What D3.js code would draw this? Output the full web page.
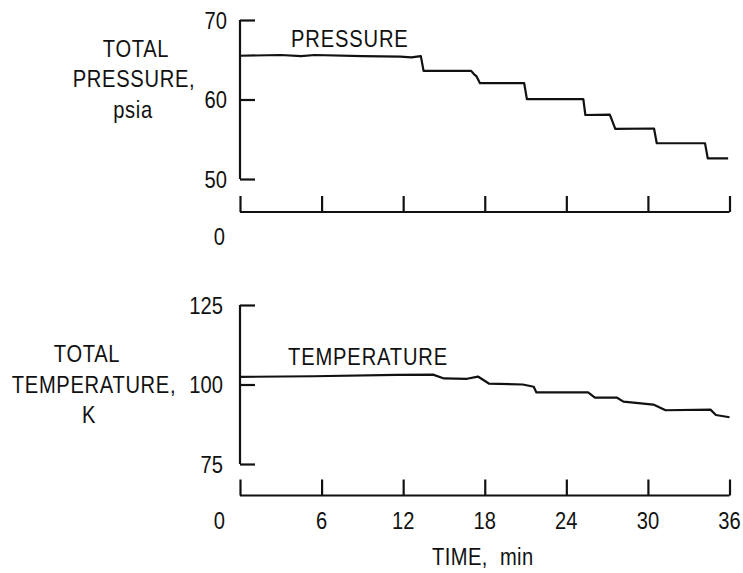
<!DOCTYPE html>
<html>
<head>
<meta charset="utf-8">
<script src="https://cdn.jsdelivr.net/npm/d3@7"></script>
<style>
  html, body { margin: 0; padding: 0; background: #fff; }
  svg text { font-family: "Liberation Sans", "DejaVu Sans", sans-serif; fill: #111; }
</style>
</head>
<body>
<svg id="chart" width="743" height="573"></svg>
<script>
// ---- data ----
const timeTicks = [0, 6, 12, 18, 24, 30, 36];
const timeTickLabels = ["6", "12", "18", "24", "30", "36"];
const pressureTicks = [50, 60, 70];
const temperatureTicks = [75, 100, 125];

const pressureTime  = [0, 3, 4.5, 5.5, 9, 11.8, 12.6, 13.3, 13.5, 17.0, 17.2, 17.4, 17.65, 20.9, 21.1, 25.25, 25.4, 27.2, 27.6, 30.45, 30.65, 34.2, 34.4, 35.9];
const pressureValue = [65.5, 65.6, 65.45, 65.6, 65.45, 65.4, 65.3, 65.45, 63.6, 63.6, 63.2, 62.9, 62.05, 62.05, 60.05, 60.05, 58.05, 58.1, 56.3, 56.35, 54.5, 54.5, 52.6, 52.6];

const temperatureTime  = [0, 5.4, 11.5, 14.2, 15.0, 16.7, 17.5, 18.3, 20.8, 21.6, 21.8, 25.6, 26.1, 27.7, 28.2, 30.4, 31.3, 34.6, 35.0, 36];
const temperatureValue = [102.4, 102.6, 103.0, 103.1, 101.9, 101.8, 102.5, 100.3, 100.0, 99.3, 97.5, 97.5, 95.9, 95.9, 94.6, 93.7, 91.9, 92.1, 90.4, 89.7];

// ---- layout ----
const svg = d3.select("#chart");
const x = d3.scaleLinear().domain([0, 36]).range([240, 729.5]);
const yP = d3.scaleLinear().domain([50, 70]).range([179, 20]);
const yT = d3.scaleLinear().domain([75, 125]).range([464, 305]);

const stroke = "#111";
const sw = 2.2;
const SX = 0.84; // condensed look

function txt(g, tx, ty, s, anchor, ls) {
  return g.append("text")
    .attr("transform", `translate(${tx},${ty}) scale(${SX},1)`)
    .attr("text-anchor", anchor || "start")
    .attr("font-size", 24)
    .attr("letter-spacing", ls || 0)
    .style("white-space", "pre")
    .text(s);
}

const panels = [
  { y: yP, ticks: pressureTicks, base: 212, time: pressureTime, vals: pressureValue,
    label: "PRESSURE", labelX: 291, labelY: 47,
    side: ["TOTAL", "PRESSURE,", "psia"], sideX: [136, 134, 133], sideY: [57, 87, 118], tickLabelRight: 227, xLabels: false },
  { y: yT, ticks: temperatureTicks, base: 495.5, time: temperatureTime, vals: temperatureValue,
    label: "TEMPERATURE", labelX: 288, labelY: 365,
    side: ["TOTAL", "TEMPERATURE,", "K"], sideX: [87, 94, 89], sideY: [362, 393, 423], tickLabelRight: 223, xLabels: true }
];

panels.forEach(p => {
  const g = svg.append("g");
  const [dMin, dMax] = p.y.domain();
  // y axis (bracket style)
  const yAxis = d3.axisRight(p.y).tickValues(p.ticks).tickSize(15).tickFormat("");
  const ya = g.append("g").attr("transform", `translate(${x(0)},0)`).call(yAxis);
  ya.select(".domain").attr("d", `M0,${p.y(dMax)}V${p.y(dMin)}`).attr("stroke", stroke).attr("stroke-width", sw);
  ya.selectAll(".tick line").attr("stroke", stroke).attr("stroke-width", sw);
  // y tick labels
  p.ticks.forEach(d => txt(g, p.tickLabelRight, p.y(d) + 8.5, String(d), "end"));
  // broken zero segment + x axis
  const xAxis = d3.axisTop(x).tickValues(timeTicks).tickSize(16).tickFormat("");
  const xa = g.append("g").attr("transform", `translate(0,${p.base})`).call(xAxis);
  xa.select(".domain").attr("d", `M${x(0)},0H${x(36)}`).attr("stroke", stroke).attr("stroke-width", sw);
  xa.selectAll(".tick line").attr("stroke", stroke).attr("stroke-width", sw);
  txt(g, 225, p.base + 33, "0", "end");
  if (p.xLabels) {
    timeTicks.slice(1).forEach((d, i) => txt(g, x(d), p.base + 33, timeTickLabels[i], "middle"));
  }
  // line
  const line = d3.line().x(d => x(d[0])).y(d => p.y(d[1]));
  g.append("path").datum(p.time.map((t, i) => [t, p.vals[i]]))
    .attr("d", line).attr("fill", "none").attr("stroke", stroke)
    .attr("stroke-width", sw).attr("stroke-linejoin", "round");
  // in-plot label
  txt(g, p.labelX, p.labelY, p.label, "start", 1);
  // side label
  p.side.forEach((s, i) => txt(g, p.sideX[i], p.sideY[i], s, "middle", 0.8));
});

txt(svg, 432, 565, "TIME,  min", "start", 0.5);
</script>
</body>
</html>
